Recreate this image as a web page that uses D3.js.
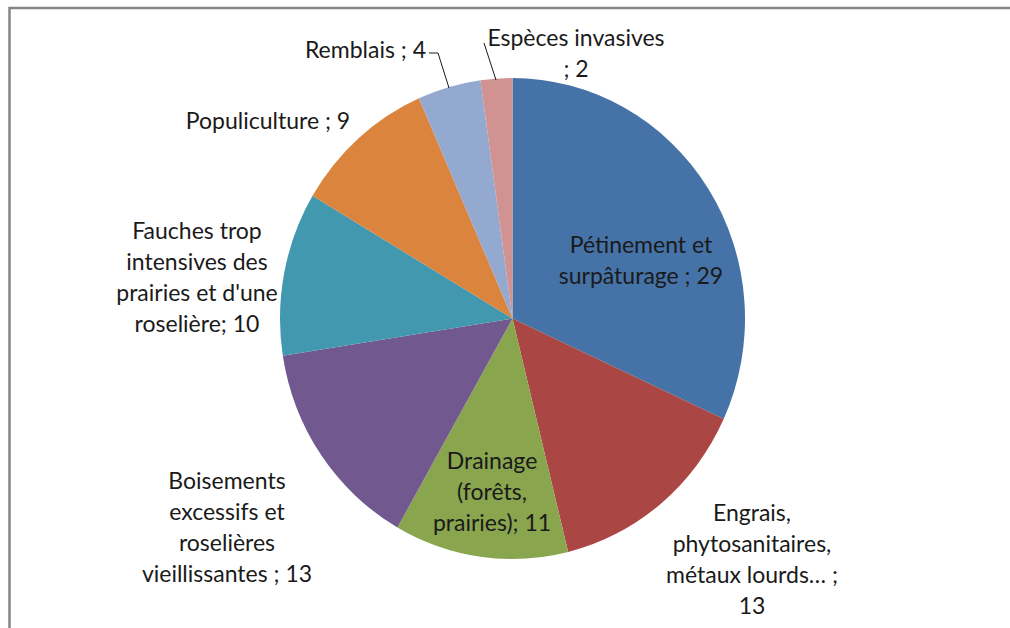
<!DOCTYPE html>
<html>
<head>
<meta charset="utf-8">
<script src="https://cdn.jsdelivr.net/npm/d3@7"></script>
<style>
  body { margin: 0; background: #fff; }
  text { font-family: Lato, "Noto Sans", sans-serif; fill: #1a1a1a; }
</style>
</head>
<body>
<div id="chart"></div>
<script>
// slice data, clockwise from 12 o'clock
const categories = [
    "Pétinement et surpâturage",
    "Engrais, phytosanitaires, métaux lourds…",
    "Drainage (forêts, prairies)",
    "Boisements excessifs et roselières vieillissantes",
    "Fauches trop intensives des prairies et d'une roselière",
    "Populiculture",
    "Remblais",
    "Espèces invasives"
];
const values = [29, 13, 11, 13, 10, 9, 4, 2];
const colors = ["#4572A7", "#AA4643", "#89A54E", "#71588F", "#4198AF", "#DB843D", "#93A9CF", "#D19392"];

// label text as it is wrapped in the chart
const labelLines = [
    ["Pétinement et", "surpâturage ; 29"],
    ["Engrais,", "phytosanitaires,", "métaux lourds… ;", "13"],
    ["Drainage", "(forêts,", "prairies); 11"],
    ["Boisements", "excessifs et", "roselières", "vieillissantes ; 13"],
    ["Fauches trop", "intensives des", "prairies et d'une", "roselière; 10"],
    ["Populiculture ; 9"],
    ["Remblais ; 4"],
    ["Espèces invasives", "; 2"]
];

const width = 1010, height = 628;
const cx = 512.5, cy = 318.5, ry = 240.5, rx = 232.5;
const lineH = 31;

// where each label block sits (center x, first line center y, anchor)
const labelPos = [
    {x: 641, y: 245, anchor: "middle"},
    {x: 752, y: 513, anchor: "middle"},
    {x: 492, y: 461, anchor: "middle"},
    {x: 227, y: 481, anchor: "middle"},
    {x: 197, y: 231, anchor: "middle"},
    {x: 268, y: 121, anchor: "middle"},
    {x: 426, y: 50, anchor: "end"},
    {x: 576, y: 38, anchor: "middle"}
];

const svg = d3.select("#chart").append("svg")
    .attr("width", width)
    .attr("height", height);

// chart frame
svg.append("rect")
    .attr("x", 9.5).attr("y", 8)
    .attr("width", 1200).attr("height", 800)
    .attr("fill", "none")
    .attr("stroke", "#868686")
    .attr("stroke-width", 2.5);

const pie = d3.pie().sort(null).value(d => d);
const arc = d3.arc().innerRadius(0).outerRadius(ry);

const g = svg.append("g")
    .attr("transform", `translate(${cx},${cy}) scale(${rx / ry},1)`);

g.selectAll("path")
    .data(pie(values))
    .enter()
    .append("path")
    .attr("d", arc)
    .attr("fill", (d, i) => colors[i]);

// leader lines for the two small slices
const leaders = [
    [[429, 53], [438, 53], [449, 88]],
    [[484, 43], [496, 80]]
];
svg.selectAll(".leader")
    .data(leaders)
    .enter()
    .append("path")
    .attr("class", "leader")
    .attr("d", d3.line())
    .attr("fill", "none")
    .attr("stroke", "#1a1a1a")
    .attr("stroke-width", 1);

const labels = svg.selectAll(".label")
    .data(labelLines)
    .enter()
    .append("text")
    .attr("class", "label")
    .attr("font-size", "23px")
    .attr("text-anchor", (d, i) => labelPos[i].anchor);

labels.each(function (lines, i) {
    const p = labelPos[i];
    d3.select(this).selectAll("tspan")
        .data(lines)
        .enter()
        .append("tspan")
        .attr("x", p.x)
        .attr("y", (l, j) => p.y + j * lineH)
        .attr("dy", "0.35em")
        .text(l => l);
});
</script>
</body>
</html>
